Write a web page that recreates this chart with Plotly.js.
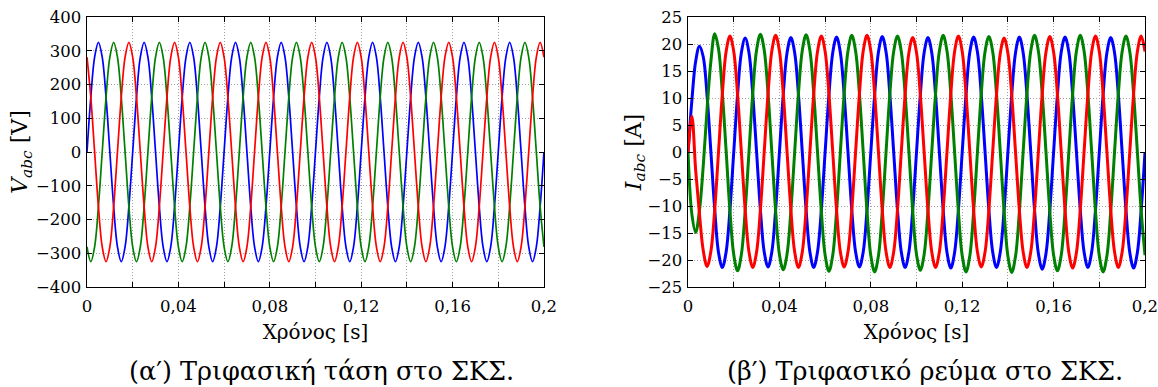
<!DOCTYPE html>
<html><head><meta charset="utf-8">
<script src="https://cdn.plot.ly/plotly-3.0.1.min.js"></script>
<style>html,body{margin:0;padding:0;background:#fff}#chart{width:1158px;height:387px}</style>
</head><body><div id="chart"></div>
<script>
// time sampling: one sample every 1/12 of a 50 Hz period (30 degrees)
const tStart = 0;
const tStep = 0.02 / 12;

// Voltages [V], phases a (blue), b (green), c (red)
const vA = [
  0,162,281,325,281,162,0,-162,-281,-325,-281,-162,
  0,162,281,325,281,162,0,-162,-281,-325,-281,-162,
  0,162,281,325,281,162,0,-162,-281,-325,-281,-162,
  0,162,281,325,281,162,0,-162,-281,-325,-281,-162,
  0,162,281,325,281,162,0,-162,-281,-325,-281,-162,
  0,162,281,325,281,162,0,-162,-281,-325,-281,-162,
  0,162,281,325,281,162,0,-162,-281,-325,-281,-162,
  0,162,281,325,281,162,0,-162,-281,-325,-281,-162,
  0,162,281,325,281,162,0,-162,-281,-325,-281,-162,
  0,162,281,325,281,162,0,-162,-281,-325,-281,-162,
  0];
const vB = [
  -281,-325,-281,-162,0,162,281,325,281,162,0,-162,
  -281,-325,-281,-162,0,162,281,325,281,162,0,-162,
  -281,-325,-281,-162,0,162,281,325,281,162,0,-162,
  -281,-325,-281,-162,0,162,281,325,281,162,0,-162,
  -281,-325,-281,-162,0,162,281,325,281,162,0,-162,
  -281,-325,-281,-162,0,162,281,325,281,162,0,-162,
  -281,-325,-281,-162,0,162,281,325,281,162,0,-162,
  -281,-325,-281,-162,0,162,281,325,281,162,0,-162,
  -281,-325,-281,-162,0,162,281,325,281,162,0,-162,
  -281,-325,-281,-162,0,162,281,325,281,162,0,-162,
  -281];
const vC = [
  281,162,0,-162,-281,-325,-281,-162,0,162,281,325,
  281,162,0,-162,-281,-325,-281,-162,0,162,281,325,
  281,162,0,-162,-281,-325,-281,-162,0,162,281,325,
  281,162,0,-162,-281,-325,-281,-162,0,162,281,325,
  281,162,0,-162,-281,-325,-281,-162,0,162,281,325,
  281,162,0,-162,-281,-325,-281,-162,0,162,281,325,
  281,162,0,-162,-281,-325,-281,-162,0,162,281,325,
  281,162,0,-162,-281,-325,-281,-162,0,162,281,325,
  281,162,0,-162,-281,-325,-281,-162,0,162,281,325,
  281,162,0,-162,-281,-325,-281,-162,0,162,281,325,
  281];

// Currents [A]
const iA = [
  0,9.5,16.8,19.6,17.6,10.4,0,-10.6,-18.6,-21.4,-18.5,-10.7,
  0,10.6,18.4,21.1,18.4,10.6,0,-10.7,-18.5,-21.3,-18.5,-10.7,
  0,10.6,18.4,21.2,18.4,10.6,0,-10.7,-18.5,-21.4,-18.5,-10.7,
  0,10.6,18.4,21.3,18.4,10.6,0,-10.7,-18.5,-21.3,-18.5,-10.7,
  0,10.6,18.5,21.4,18.5,10.6,0,-10.7,-18.5,-21.4,-18.5,-10.7,
  0,10.6,18.4,21.2,18.4,10.6,0,-10.7,-18.6,-21.5,-18.6,-10.7,
  0,10.6,18.5,21.3,18.5,10.6,0,-10.7,-18.5,-21.4,-18.5,-10.7,
  0,10.6,18.4,21.3,18.4,10.6,0,-10.8,-18.8,-21.7,-18.8,-10.8,
  0,10.6,18.5,21.3,18.5,10.6,0,-10.7,-18.5,-21.4,-18.5,-10.7,
  0,10.6,18.4,21.2,18.4,10.6,0,-10.7,-18.6,-21.5,-18.6,-10.7,
  0];
const iB = [
  0,-11.5,-14.9,-10.8,-2.5,8,16.8,21.9,19.1,11,0.2,-10.9,
  -19,-22,-19,-10.9,0,10.9,18.9,21.8,18.9,10.9,0,-10.9,
  -19,-21.8,-18.9,-10.9,0,10.9,18.8,21.7,18.8,10.9,0,-11,
  -19.1,-22.1,-19.1,-11,0,10.8,18.7,21.6,18.7,10.8,0,-11,
  -19.2,-22.2,-19.2,-11,0,10.8,18.6,21.5,18.6,10.8,0,-10.9,
  -19,-21.9,-19,-10.9,0,10.8,18.7,21.6,18.7,10.8,0,-11,
  -19.2,-22.2,-19.2,-11,0,10.8,18.6,21.4,18.6,10.8,0,-11,
  -19.3,-22.3,-19.3,-11.1,0,10.8,18.7,21.6,18.7,10.8,0,-11,
  -19.1,-22,-19.1,-11,0,10.8,18.7,21.6,18.7,10.8,0,-11,
  -19.2,-22.2,-19.2,-11,0,10.8,18.6,21.5,18.6,10.8,0,-11,
  -19.1];
const iC = [
  0,6.6,-3.4,-11.5,-18.3,-21.2,-18.4,-10.7,0,10.7,18.6,21.5,
  18.6,10.7,0,-10.7,-18.5,-21.4,-18.5,-10.7,0,10.7,18.7,21.6,
  18.7,10.8,0,-10.7,-18.5,-21.4,-18.5,-10.7,0,10.7,18.6,21.5,
  18.6,10.7,0,-10.7,-18.5,-21.3,-18.5,-10.7,0,10.7,18.7,21.6,
  18.7,10.8,0,-10.7,-18.5,-21.4,-18.5,-10.7,0,10.6,18.4,21.2,
  18.4,10.6,0,-10.7,-18.5,-21.4,-18.5,-10.7,0,10.7,18.6,21.5,
  18.6,10.7,0,-10.7,-18.5,-21.3,-18.5,-10.7,0,10.6,18.3,21.1,
  18.3,10.6,0,-10.7,-18.5,-21.4,-18.5,-10.7,0,10.7,18.5,21.4,
  18.5,10.7,0,-10.7,-18.6,-21.5,-18.6,-10.7,0,10.7,18.6,21.5,
  18.6,10.7,0,-10.7,-18.5,-21.4,-18.5,-10.7,0,10.7,18.6,21.5,
  18.6];

// tick labels
const xTickVals = [0,0.04,0.08,0.12,0.16,0.2];
const xTickText = ['0','0,04','0,08','0,12','0,16','0,2'];
const xMinorStep = 0.02;

const xTitle = 'Χρόνος [s]';
const vTitle = '<i>V</i><sub><i>abc</i></sub> [V]';
const iTitle = '<i>I</i><sub><i>abc</i></sub> [A]';
const capA = '(α′) Τριφασική τάση στο ΣΚΣ.';
const capB = '(β′) Τριφασικό ρεύμα στο ΣΚΣ.';

const FONT = 'DejaVu Serif';
const BLUE = '#0000ff', GREEN = '#008000', RED = '#ff0000';

function tr(y, color, w, xa, ya) {
  return {type:'scatter', mode:'lines', x0:tStart, dx:tStep, y:y, xaxis:xa, yaxis:ya,
          line:{color:color, width:w, shape:'spline', smoothing:1}, hoverinfo:'skip'};
}
const data = [
  tr(vA, BLUE, 1.7, 'x', 'y'), tr(vB, GREEN, 1.7, 'x', 'y'), tr(vC, RED, 1.7, 'x', 'y'),
  tr(iA, BLUE, 3, 'x2', 'y2'), tr(iB, GREEN, 3, 'x2', 'y2'), tr(iC, RED, 3, 'x2', 'y2')
];

const GRID = '#a0a0a0';
function ax(extra) {
  return Object.assign({
    showline:true, linecolor:'#000', linewidth:1.4, mirror:'ticks',
    ticks:'inside', ticklen:5, tickwidth:1, tickcolor:'#000',
    showgrid:true, gridcolor:GRID, griddash:'1px,2px', gridwidth:1,
    zeroline:false, fixedrange:true, ticklabeloverflow:'allow',
    tickfont:{family:FONT, size:16.5, color:'#000'}
  }, extra);
}
const xBase = {range:[0,0.2], tickmode:'array', tickvals:xTickVals, ticktext:xTickText,
               ticklabelstandoff:4,
               minor:{dtick:xMinorStep, tick0:0, ticks:'inside', ticklen:5, tickcolor:'#000',
                      showgrid:true, gridcolor:GRID, griddash:'1px,2px', gridwidth:1},
               title:{text:xTitle, font:{family:FONT, size:20, color:'#000'}, standoff:9}};

const layout = {
  width:1158, height:387, showlegend:false,
  margin:{l:87, r:13, t:17, b:100},
  paper_bgcolor:'#fff', plot_bgcolor:'#fff',
  font:{family:FONT, color:'#000'},
  xaxis: ax(Object.assign({domain:[0,0.4319], anchor:'y'}, xBase)),
  xaxis2: ax(Object.assign({domain:[0.5681,1], anchor:'y2'}, xBase)),
  yaxis: ax({domain:[0,1], anchor:'x', range:[-400,400], dtick:100, tick0:0, ticklabelstandoff:1,
             title:{text:vTitle, font:{family:FONT, size:22, color:'#000'}, standoff:2}}),
  yaxis2: ax({domain:[0,1], anchor:'x2', range:[-25,25], dtick:5, tick0:0, ticklabelstandoff:1,
             title:{text:iTitle, font:{family:FONT, size:22, color:'#000'}, standoff:0}}),
  annotations:[
    {text:capA, xref:'paper', yref:'paper', x:0.2221, y:-0.311, xanchor:'center', yanchor:'middle',
     showarrow:false, font:{family:FONT, size:25.5, color:'#000'}},
    {text:capB, xref:'paper', yref:'paper', x:0.792, y:-0.311, xanchor:'center', yanchor:'middle',
     showarrow:false, font:{family:FONT, size:25.5, color:'#000'}}
  ]
};
Plotly.newPlot('chart', data, layout, {staticPlot:true, displayModeBar:false});
</script></body></html>
